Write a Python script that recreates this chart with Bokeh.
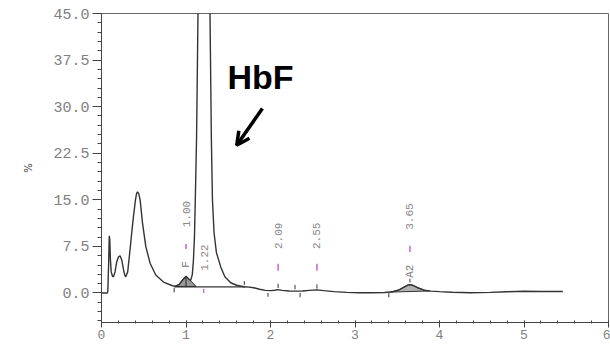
import numpy as np
from bokeh.plotting import figure
from bokeh.models import Range1d, FixedTicker, PrintfTickFormatter, Arrow, OpenHead
from bokeh.core.properties import value
from bokeh.embed import file_html
from bokeh.resources import INLINE

# ---------------- data ----------------
chrom_x = [0.00, 0.07, 0.075, 0.085, 0.092, 0.098, 0.105, 0.115, 0.13, 0.142,
           0.16, 0.18, 0.20, 0.22, 0.24, 0.26, 0.275, 0.287, 0.31, 0.338,
           0.36, 0.378, 0.402, 0.415, 0.426, 0.44, 0.457, 0.485, 0.524, 0.575,
           0.642, 0.74, 0.84, 0.87, 0.92, 0.96, 1.00, 1.03, 1.055, 1.075,
           1.088, 1.10, 1.11, 1.125, 1.142, 1.17, 1.213, 1.255, 1.284, 1.30,
           1.313, 1.332, 1.36, 1.411, 1.46, 1.529, 1.60, 1.683, 1.75, 1.80,
           1.87, 1.94, 2.00, 2.05, 2.09, 2.14, 2.22, 2.30, 2.38, 2.46,
           2.55, 2.63, 2.75, 2.90, 3.05, 3.20, 3.35, 3.45, 3.52, 3.58,
           3.63, 3.66, 3.70, 3.75, 3.82, 3.90, 4.00, 4.15, 4.37, 4.60,
           4.80, 5.00, 5.20, 5.46]
chrom_y = [0.0, 0.0, 0.4, 5.0, 9.2, 8.6, 5.5, 3.4, 2.7, 2.6,
           3.4, 5.0, 5.8, 6.0, 5.3, 3.8, 2.9, 2.6, 3.4, 7.0,
           10.0, 12.3, 15.0, 16.0, 16.3, 16.0, 15.0, 11.3, 7.5, 4.8,
           2.9, 1.7, 1.17, 1.08, 1.4, 2.1, 2.7, 2.3, 2.0, 3.0,
           5.3, 9.0, 15.0, 25.0, 45.0, 70.0, 90.0, 70.0, 45.0, 25.0,
           15.0, 9.7, 6.5, 4.2, 2.6, 1.65, 1.25, 1.0, 0.95, 0.85,
           0.6, 0.42, 0.38, 0.45, 0.55, 0.42, 0.32, 0.30, 0.32, 0.42,
           0.5, 0.38, 0.22, 0.10, 0.05, 0.05, 0.08, 0.2, 0.5, 0.95,
           1.3, 1.35, 1.15, 0.8, 0.45, 0.3, 0.22, 0.12, 0.05, 0.10,
           0.2, 0.28, 0.25, 0.25]

# integrated (shaded) peaks
f_peak_x = [0.87, 0.92, 0.96, 1.00, 1.03, 1.06, 1.12]
f_peak_y = [1.05, 1.4, 2.1, 2.7, 2.3, 1.9, 1.05]
a2_peak_x = [3.42, 3.52, 3.58, 3.63, 3.66, 3.70, 3.75, 3.82, 3.88]
a2_peak_y = [0.15, 0.5, 0.95, 1.3, 1.35, 1.15, 0.8, 0.45, 0.32]

# integration baseline under F / HbF
base_x = [0.86, 1.70]
base_y = [1.0, 1.0]

# peak start/end markers
mark_x = [0.86, 1.69, 1.97, 2.09, 2.29, 2.35, 2.55, 3.40, 3.65]
mark_y0 = [0.1, 1.3, -0.6, 0.8, 0.6, -0.7, 0.7, -0.7, 1.7]
mark_y1 = [0.8, 1.9, 0.0, 1.5, 1.3, 0.0, 1.4, 0.0, 2.3]
pink_mark_x = [1.21]
pink_mark_y0 = [0.0]
pink_mark_y1 = [0.7]

# retention time labels
rt_labels = ["1.00", "1.22", "2.09", "2.55", "3.65"]
rt_x = [1.00, 1.22, 2.09, 2.55, 3.65]
rt_y = [12.7, 5.7, 9.2, 9.2, 12.3]
dash_x = [1.00, 2.09, 2.55, 3.65]
dash_y0 = [7.1, 3.6, 3.6, 6.6]
dash_y1 = [7.9, 4.7, 4.7, 7.6]
name_labels = ["F", "A2"]
name_x = [1.00, 3.65]
name_y = [4.6, 3.5]

# annotation
hbf_text = ["HbF"]
hbf_x = [1.49]
hbf_y = [34.8]
arrow_tail = (1.904, 29.7)
arrow_tip = (1.600, 23.8)

# axes
x_ticks = [0, 1, 2, 3, 4, 5, 6]
y_ticks = [0.0, 7.5, 15.0, 22.5, 30.0, 37.5, 45.0]
x_minor = list(np.round(np.arange(0, 6.01, 0.2), 2))
y_minor = list(np.round(np.arange(-4.5, 45.01, 1.5), 2))

# ---------------- figure ----------------
p = figure(width=610, height=344, output_backend="svg", toolbar_location=None,
           x_range=Range1d(0, 6), y_range=Range1d(-4.75, 45),
           min_border_left=101, min_border_right=2, min_border_top=13,
           min_border_bottom=22)
p.background_fill_color = "white"
p.border_fill_color = "white"
p.outline_line_color = "#666666"
p.outline_line_width = 1
p.xgrid.visible = False
p.ygrid.visible = False

tick_color = "#808080"
mono = "Liberation Mono"

p.xaxis.ticker = FixedTicker(ticks=x_ticks, minor_ticks=x_minor)
p.xaxis.axis_line_color = "#444444"
p.xaxis.major_tick_line_color = "#444444"
p.xaxis.minor_tick_line_color = "#444444"
p.xaxis.major_tick_in = 2
p.xaxis.major_tick_out = 5
p.xaxis.minor_tick_in = 2
p.xaxis.minor_tick_out = 1
p.xaxis.major_label_standoff = 2
p.xaxis.major_label_text_font = mono
p.xaxis.major_label_text_font_size = "13px"
p.xaxis.major_label_text_color = tick_color

p.yaxis.ticker = FixedTicker(ticks=y_ticks, minor_ticks=y_minor)
p.yaxis.formatter = PrintfTickFormatter(format="%.1f")
p.yaxis.axis_line_color = "#444444"
p.yaxis.major_tick_line_color = "#444444"
p.yaxis.minor_tick_line_color = "#444444"
p.yaxis.major_tick_in = 0
p.yaxis.major_tick_out = 9
p.yaxis.minor_tick_in = 0
p.yaxis.minor_tick_out = 4
p.yaxis.major_label_standoff = 3
p.yaxis.major_label_text_font = mono
p.yaxis.major_label_text_font_size = "15px"
p.yaxis.major_label_text_color = tick_color
p.yaxis.axis_label = "%"
p.yaxis.axis_label_text_font = "DejaVu Sans"
p.yaxis.axis_label_text_font_size = "10px"
p.yaxis.axis_label_text_font_style = "normal"
p.yaxis.axis_label_text_color = "#333333"
p.yaxis.axis_label_standoff = 16

# shaded peaks
p.patch(f_peak_x, f_peak_y, fill_color="#9a9a9a", line_color="#222222", line_width=1)
p.patch(a2_peak_x, a2_peak_y, fill_color="#b0b0b0", line_color="#333333", line_width=1)
p.segment(x0=[f_peak_x[3]], y0=[base_y[0]], x1=[f_peak_x[3]], y1=[f_peak_y[3]],
          line_color="#222222", line_width=1)

# baseline + chromatogram
p.line(base_x, base_y, line_color="#333333", line_width=1.2)
p.line(chrom_x, chrom_y, line_color="#333333", line_width=1.4)

# markers
p.segment(x0=mark_x, y0=mark_y0, x1=mark_x, y1=mark_y1, line_color="#333333", line_width=1)
p.segment(x0=pink_mark_x, y0=pink_mark_y0, x1=pink_mark_x, y1=pink_mark_y1,
          line_color="#cc55cc", line_width=1.2)
p.segment(x0=dash_x, y0=dash_y0, x1=dash_x, y1=dash_y1, line_color="#cc55cc", line_width=1.4)

# rotated labels
p.text(x=rt_x, y=rt_y, text=rt_labels, angle=np.pi / 2, text_align="center",
       text_baseline="middle", text_font=value(mono), text_font_size="11px",
       text_color="#888888")
p.text(x=name_x, y=name_y, text=name_labels, angle=np.pi / 2, text_align="center",
       text_baseline="middle", text_font=value(mono), text_font_size="11px",
       text_color="#777777")

# HbF annotation
p.text(x=hbf_x, y=hbf_y, text=hbf_text, text_align="left", text_baseline="alphabetic",
       text_font=value("Liberation Sans"), text_font_size="34px",
       text_font_style="bold", text_color="black")
p.add_layout(Arrow(end=OpenHead(size=13, line_width=3.5, line_color="black"),
                   x_start=arrow_tail[0], y_start=arrow_tail[1],
                   x_end=arrow_tip[0], y_end=arrow_tip[1],
                   line_width=3.5, line_color="black"))

open("out.html", "w").write(file_html(p, INLINE))
